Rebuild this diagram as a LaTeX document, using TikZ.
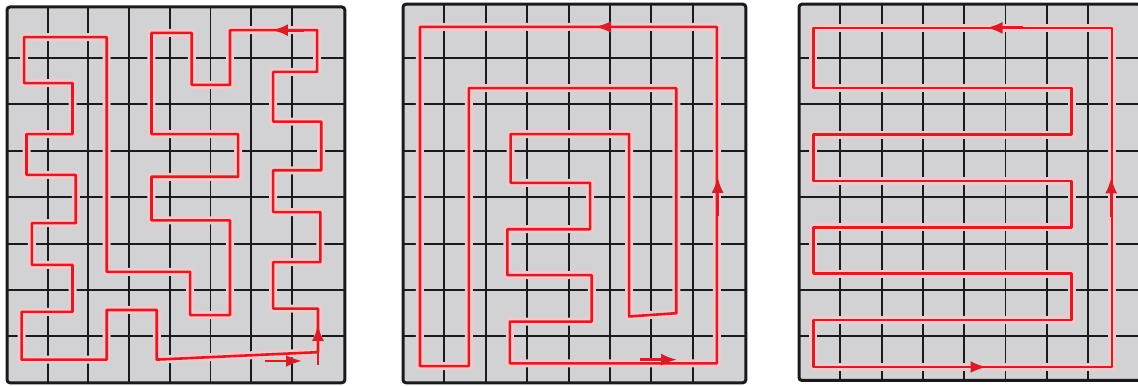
\documentclass[tikz,border=0pt]{standalone}
\usepackage{xcolor}
\definecolor{cellgray}{RGB}{210,210,212}
\definecolor{pathred}{RGB}{214,30,40}
\definecolor{gridblack}{RGB}{25,25,30}
\usepackage{tikz}
\usetikzlibrary{arrows.meta}
\tikzset{
  gridline/.style={draw=gridblack, line width=0.95pt},
  gridframe/.style={draw=gridblack, line width=1.5pt, rounded corners=1.5pt},
  tourline/.style={draw=pathred, line width=1.3pt, line join=round,
    preaction={draw=pathred!25, line width=4pt, line join=round}},
  dirarrow/.style={draw=pathred, line width=1.4pt, -{Latex[length=8pt,width=6pt]}}
}

\begin{document}
\begin{tikzpicture}[x=0.5pt, y=-0.5pt]
  \clip (0,0) rectangle (1138,385);

  % Grid 1
  \begin{scope}[shift={(27.35,34.8)}, xscale=40.7, yscale=46.4]
    \fill[cellgray, rounded corners=1.5pt] (-0.5,-0.6) rectangle (7.8,7.5);
    \foreach \k in {0.5,1.5,...,6.5} {
      \draw[gridline] (\k,-0.6) -- (\k,7.5);
      \draw[gridline] (-0.5,\k) -- (7.8,\k);
    }
    \draw[gridframe] (-0.5,-0.6) rectangle (7.8,7.5);
    \draw[tourline] (7.14,6.84) -- (7.14,5.9) -- (6.04,5.9) -- (6.04,4.9)
      -- (7.2,4.9) -- (7.2,3.82) -- (6.04,3.82) -- (6.04,2.92) -- (7.22,2.92)
      -- (7.22,1.87) -- (6.04,1.87) -- (6.04,0.8) -- (7.12,0.8) -- (7.12,-0.1)
      -- (4.98,-0.1) -- (4.98,1.08) -- (4.04,1.08) -- (4.04,-0.04) -- (3.05,-0.04)
      -- (3.05,2.14) -- (5.18,2.14) -- (5.18,3.06) -- (3.05,3.06) -- (3.05,4.0)
      -- (4.98,4.0) -- (4.98,6.04) -- (4.0,6.04) -- (4.0,5.11) -- (1.95,5.11)
      -- (1.95,0.05) -- (-0.08,0.05) -- (-0.08,1.04) -- (1.11,1.04) -- (1.11,2.14)
      -- (-0.02,2.14) -- (-0.02,3.02) -- (1.19,3.02) -- (1.19,4.06) -- (0.11,4.06)
      -- (0.11,4.96) -- (1.11,4.96) -- (1.11,5.97) -- (-0.14,5.97) -- (-0.14,7.0)
      -- (1.95,7.0) -- (1.95,5.93) -- (3.18,5.93) -- (3.18,7.0) -- cycle;
    \draw[dirarrow] (5.84,7.03) -- (6.75,7.03);
    \draw[dirarrow] (7.14,7.12) -- (7.14,6.25);
    \draw[dirarrow] (6.8,-0.1) -- (6.01,-0.1);
  \end{scope}

  % Grid 2
  \begin{scope}[shift={(423.7,34.8)}, xscale=41.4, yscale=46.4]
    \fill[cellgray, rounded corners=1.5pt] (-0.5,-0.66) rectangle (7.78,7.5);
    \foreach \k in {0.5,1.5,...,6.5} {
      \draw[gridline] (\k,-0.66) -- (\k,7.5);
      \draw[gridline] (-0.5,\k) -- (7.78,\k);
    }
    \draw[gridframe] (-0.5,-0.66) rectangle (7.78,7.5);
    \draw[tourline] (7.08,7.08) -- (7.08,-0.17) -- (-0.09,-0.17) -- (-0.09,7.14)
      -- (1.09,7.14) -- (1.09,1.15) -- (6.1,1.15) -- (6.1,6.0) -- (4.96,6.07)
      -- (4.96,2.14) -- (2.1,2.14) -- (2.1,3.19) -- (4.02,3.19) -- (4.02,4.19)
      -- (2.02,4.19) -- (2.02,5.18) -- (4.06,5.18) -- (4.06,6.18) -- (2.08,6.18)
      -- (2.08,7.08) -- cycle;
    \draw[dirarrow] (5.22,7.0) -- (6.12,7.0);
    \draw[dirarrow] (7.1,3.9) -- (7.1,3.06);
    \draw[dirarrow] (4.9,-0.17) -- (4.14,-0.17);
  \end{scope}

  % Grid 3
  \begin{scope}[shift={(819.65,34.8)}, xscale=41.3, yscale=46.4]
    \fill[cellgray, rounded corners=1.5pt] (-0.5,-0.66) rectangle (7.78,7.45);
    \foreach \k in {0.5,1.5,...,6.5} {
      \draw[gridline] (\k,-0.66) -- (\k,7.45);
      \draw[gridline] (-0.5,\k) -- (7.78,\k);
    }
    \draw[gridframe] (-0.5,-0.66) rectangle (7.78,7.45);
    \draw[tourline] (7.08,7.16) -- (7.08,-0.15) -- (-0.15,-0.15) -- (-0.15,1.15)
      -- (6.1,1.15) -- (6.1,2.15) -- (-0.15,2.15) -- (-0.15,3.15) -- (6.1,3.15)
      -- (6.1,4.15) -- (-0.15,4.15) -- (-0.15,5.15) -- (6.1,5.15) -- (6.1,6.15)
      -- (-0.15,6.15) -- (-0.15,7.16) -- cycle;
    \draw[dirarrow] (3.6,7.16) -- (4.04,7.16);
    \draw[dirarrow] (7.06,3.93) -- (7.06,3.07);
    \draw[dirarrow] (4.93,-0.15) -- (4.04,-0.15);
  \end{scope}
\end{tikzpicture}
\end{document}
